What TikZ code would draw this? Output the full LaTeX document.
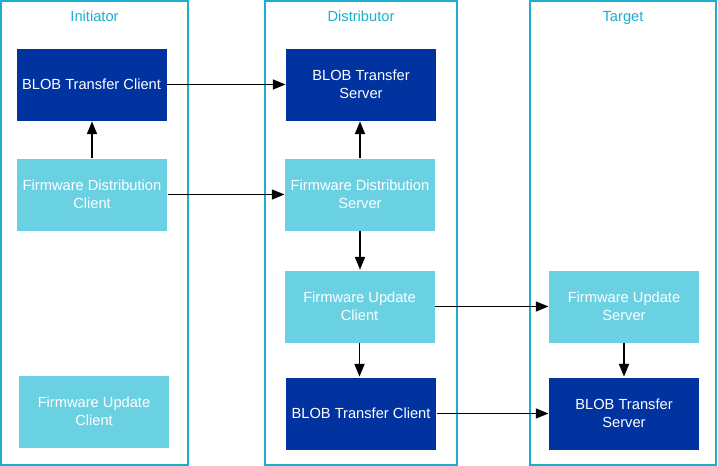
\documentclass[tikz,border=0pt]{standalone}
\usepackage{fontspec}
\setmainfont{Liberation Sans}
\usetikzlibrary{arrows.meta}
\definecolor{darkb}{RGB}{0,51,160}
\definecolor{lightb}{RGB}{106,209,227}
\definecolor{framec}{RGB}{26,175,207}
\begin{document}
\begin{tikzpicture}[x=0.75pt,y=-0.75pt,
  frame/.style={draw=framec,line width=1pt},
  title/.style={text=framec,font=\fontsize{11}{13}\selectfont,anchor=center,text height=0.72em,text depth=0.22em,inner sep=0pt},
  box/.style={minimum width=113pt,minimum height=55pt,inner sep=0pt,text=white,align=center,font=\fontsize{11}{13.5}\selectfont,draw=white,line width=0.3pt},
  dbox/.style={box,fill=darkb},
  lbox/.style={box,fill=lightb},
  arr/.style={-{Triangle[length=9.5pt,width=7.5pt]},line width=1.1pt,black}]
\useasboundingbox (0,0) rectangle (718,466);
\draw[frame] (1,1) rectangle (188,465);
\draw[frame] (265,1) rectangle (457,465);
\draw[frame] (530,1) rectangle (716,465);
\node[title] (t1) at (94.5,18.5) {Initiator};
\node[title] (t2) at (361,18.5) {Distributor};
\node[title] (t3) at (623,18.5) {Target};
\node[dbox] (ibtc) at (91.5,84.5) {BLOB Transfer Client};
\node[lbox] (ifdc) at (92,194.5) {Firmware Distribution\\Client};
\node[lbox] (ifuc) at (94,411.5) {Firmware Update\\Client};
\node[dbox] (dbts) at (361,84.5) {BLOB Transfer\\Server};
\node[lbox] (dfds) at (360,194.5) {Firmware Distribution\\Server};
\node[lbox] (dfuc) at (359.5,306.5) {Firmware Update\\Client};
\node[dbox] (dbtc) at (361,413.5) {BLOB Transfer Client};
\node[lbox] (tfus) at (624,306.5) {Firmware Update\\Server};
\node[dbox] (tbts) at (624,413.5) {BLOB Transfer\\Server};
\draw[arr] (ibtc.east) -- (ibtc.east -| dbts.west);
\draw[arr] (ifdc.east) -- (ifdc.east -| dfds.west);
\draw[arr] (ifdc.north) -- (ifdc.north |- ibtc.south);
\draw[arr] (dfds.north) -- (dfds.north |- dbts.south);
\draw[arr] (dfds.south) -- (dfds.south |- dfuc.north);
\draw[arr] (dfuc.south) -- (dfuc.south |- dbtc.north);
\draw[arr] (dfuc.east) -- (dfuc.east -| tfus.west);
\draw[arr] (dbtc.east) -- (dbtc.east -| tbts.west);
\draw[arr] (tfus.south) -- (tfus.south |- tbts.north);
\end{tikzpicture}
\end{document}
